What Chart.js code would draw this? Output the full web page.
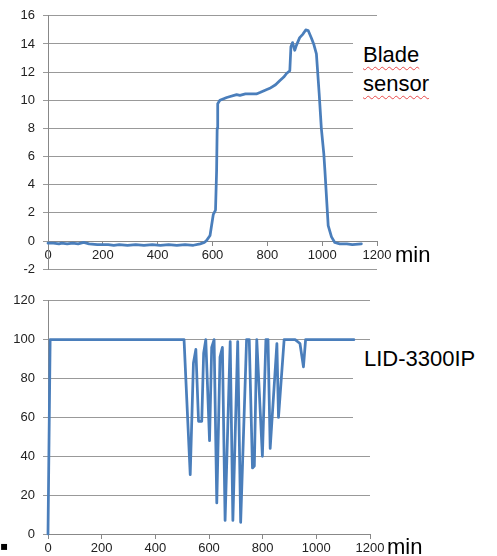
<!DOCTYPE html>
<html>
<head>
<meta charset="utf-8">
<script src="https://cdn.jsdelivr.net/npm/chart.js@4.4.1/dist/chart.umd.min.js"></script>
<style>
  body { margin: 0; background: #fff; }
  #wrap { position: relative; width: 497px; height: 556px; overflow: hidden; font-family: "Liberation Sans", Arial, sans-serif; }
  canvas { position: absolute; left: 0; }
  .mask { position: absolute; background: #fff; }
  .label { position: absolute; font-size: 22px; line-height: 29px; color: #000; white-space: nowrap; }
  .spell { text-decoration: underline wavy #e84a4a; text-decoration-thickness: 1px; text-underline-offset: 4px; }
  #bullet { position: absolute; left: 0px; top: 539px; font: 12px "DejaVu Sans", sans-serif; color: #000; }
</style>
</head>
<body>
<div id="wrap">
  <canvas id="blade" width="497" height="285" style="top:0"></canvas>
  <canvas id="lid" width="497" height="271" style="top:285px"></canvas>

  <!-- boites de texte blanches qui cachent les grilles, comme dans Excel -->
  <div class="mask" style="left:353px; top:22px; width:144px; height:150px"></div>
  <div class="mask" style="left:353px; top:343px; width:144px; height:87px"></div>

  <div class="label" style="left:363px; top:40px"><span class="spell">Blade</span><br><span class="spell">sensor</span></div>
  <div class="label" style="left:364px; top:344px">LID-3300IP</div>
  <div class="label" style="left:395px; top:240px">min</div>
  <div class="label" style="left:387px; top:532px">min</div>
  <div id="bullet">▪</div>
</div>

<script>
// Données (minutes / valeur)
const xTicks = [0, 200, 400, 600, 800, 1000, 1200];
const bladeTicks = [-2, 0, 2, 4, 6, 8, 10, 12, 14, 16];
const lidTicks = [0, 20, 40, 60, 80, 100, 120];

const bladeMinutes = [0, 20, 40, 50, 70, 90, 110, 130, 150, 180, 220, 240, 260, 290, 320, 350, 380, 410, 440, 470, 500, 530, 555, 570, 579, 591, 603, 611, 615, 617, 619, 627, 652, 688, 700, 720, 736, 760, 773, 790, 809, 830, 846, 860, 870, 882, 886, 892, 900, 906, 918, 930, 940, 949, 961, 969, 979, 989, 997, 1006, 1010, 1022, 1034, 1046, 1064, 1090, 1110, 1143];
const bladeValues  = [-0.15, -0.15, -0.2, -0.15, -0.2, -0.15, -0.2, -0.1, -0.2, -0.25, -0.25, -0.3, -0.25, -0.3, -0.25, -0.3, -0.25, -0.3, -0.25, -0.3, -0.25, -0.3, -0.2, -0.1, 0.05, 0.4, 1.9, 2.2, 5.0, 8.0, 9.75, 10.0, 10.2, 10.4, 10.35, 10.45, 10.45, 10.45, 10.55, 10.7, 10.85, 11.1, 11.4, 11.65, 11.9, 12.1, 13.8, 14.1, 13.55, 13.9, 14.45, 14.7, 15.0, 14.95, 14.4, 14.0, 13.3, 10.5, 8.0, 6.2, 5.0, 1.1, 0.3, -0.1, -0.2, -0.2, -0.25, -0.2];

const lidMinutes = [0, 8, 507, 530, 542, 551, 561, 573, 580, 588, 602, 610, 619, 629, 641, 650, 660, 679, 689, 707, 718, 740, 750, 762, 769, 778, 799, 812, 820, 828, 853, 859, 880, 921, 939, 952, 960, 1140];
const lidValues  = [0, 100, 100, 30.5, 88, 95, 58, 58, 93, 100, 48, 96, 100, 16, 91, 96, 7, 99, 7, 99, 6, 100, 100, 34, 35, 100, 40, 100, 100, 44, 98, 60, 100, 100, 98, 86, 100, 100];

const lineColor = '#4a7ebb';
const gridColor = '#999';
const axisColor = '#888';
const tickFont = { size: 13, family: '"Liberation Sans", Arial' };

function makeChart(id, minutes, values, yTicks, padding) {
  const ctx = document.getElementById(id).getContext('2d');
  return new Chart(ctx, {
    type: 'line',
    data: {
      datasets: [{
        data: minutes.map((m, i) => ({ x: m, y: values[i] })),
        borderColor: lineColor,
        borderWidth: 2.75,
        borderJoinStyle: 'round',
        borderCapStyle: 'round',
        pointRadius: 0,
        tension: 0,
        fill: false,
        clip: false
      }]
    },
    options: {
      responsive: false,
      animation: false,
      devicePixelRatio: 1,
      layout: { padding: padding },
      plugins: { legend: { display: false }, tooltip: { enabled: false } },
      scales: {
        x: {
          type: 'linear',
          position: { y: 0 },
          min: xTicks[0],
          max: xTicks[xTicks.length - 1],
          afterBuildTicks: s => { s.ticks = xTicks.map(v => ({ value: v })); },
          grid: { drawOnChartArea: false, drawTicks: true, tickLength: 4, color: axisColor },
          border: { display: true, color: axisColor },
          ticks: { color: '#222', font: tickFont, padding: 3, maxRotation: 0, autoSkip: false, callback: v => String(v) }
        },
        y: {
          position: 'left',
          min: yTicks[0],
          max: yTicks[yTicks.length - 1],
          afterBuildTicks: s => { s.ticks = yTicks.map(v => ({ value: v })); },
          afterFit: s => { s.width = 48; },
          grid: { color: gridColor, tickLength: 5 },
          border: { display: true, color: axisColor },
          ticks: { color: '#222', font: tickFont, padding: 8, callback: v => String(v) }
        }
      }
    }
  });
}

makeChart('blade', bladeMinutes, bladeValues, bladeTicks, { top: 12, right: 120, bottom: 13, left: 0 });
makeChart('lid', lidMinutes, lidValues, lidTicks, { top: 7, right: 127, bottom: 22, left: 0 });
</script>
</body>
</html>
